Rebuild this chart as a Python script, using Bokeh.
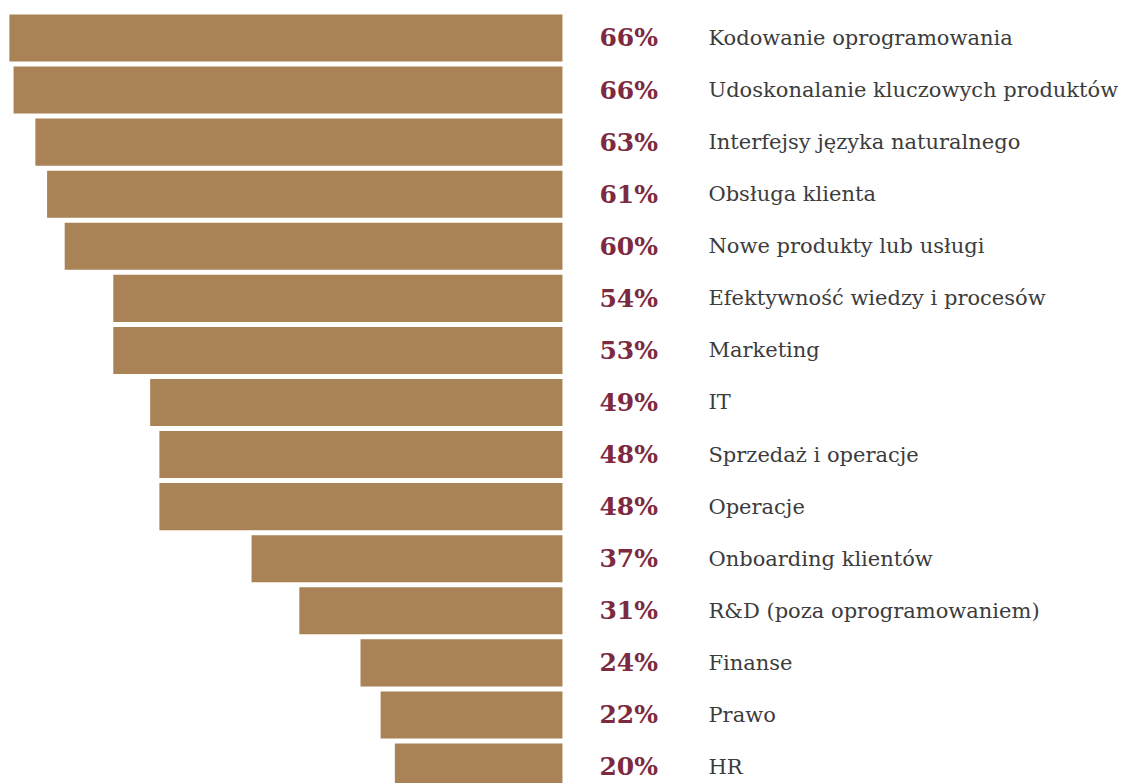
from bokeh.plotting import figure
from bokeh.models import Range1d, ColumnDataSource
from bokeh.core.properties import value
from bokeh.embed import file_html
from bokeh.resources import INLINE

categories = [
    "Kodowanie oprogramowania",
    "Udoskonalanie kluczowych produktów",
    "Interfejsy języka naturalnego",
    "Obsługa klienta",
    "Nowe produkty lub usługi",
    "Efektywność wiedzy i procesów",
    "Marketing",
    "IT",
    "Sprzedaż i operacje",
    "Operacje",
    "Onboarding klientów",
    "R&D (poza oprogramowaniem)",
    "Finanse",
    "Prawo",
    "HR",
]
pct_labels = [66, 66, 63, 61, 60, 54, 53, 49, 48, 48, 37, 31, 24, 22, 20]
bar_values = [66.0, 65.5, 62.9, 61.5, 59.4, 53.6, 53.6, 49.2, 48.1, 48.1, 37.1, 31.4, 24.1, 21.7, 20.0]

idx = list(range(len(categories)))
src = ColumnDataSource(dict(
    y=idx,
    left=[-v for v in bar_values],
    right=[0] * len(idx),
    pct=[f"{v}%" for v in pct_labels],
    cat=categories,
    x0=[0] * len(idx),
))

W, H = 1122, 783
p = figure(width=W, height=H, output_backend="svg", toolbar_location=None,
           x_range=Range1d(-67.06, 66.83), y_range=Range1d(14.317, -0.72),
           min_border=0, min_border_left=0, min_border_right=0,
           min_border_top=0, min_border_bottom=0)
p.axis.visible = False
p.grid.visible = False
p.outline_line_color = None
p.background_fill_color = "white"
p.border_fill_color = "white"

p.hbar(y="y", left="left", right="right", height=0.904, source=src,
       fill_color="#A98256", line_color=None)

p.text(x="x0", y="y", text="pct", source=src, x_offset=37,
       text_font=value("DejaVu Serif"), text_font_style="bold",
       text_font_size="25px", text_color="#7D2940",
       text_baseline="middle", text_align="left")

p.text(x="x0", y="y", text="cat", source=src, x_offset=146,
       text_font=value("DejaVu Serif"),
       text_font_size="21px", text_color="#3C3C3C",
       text_baseline="middle", text_align="left")

open("out.html", "w").write(file_html(p, INLINE))
